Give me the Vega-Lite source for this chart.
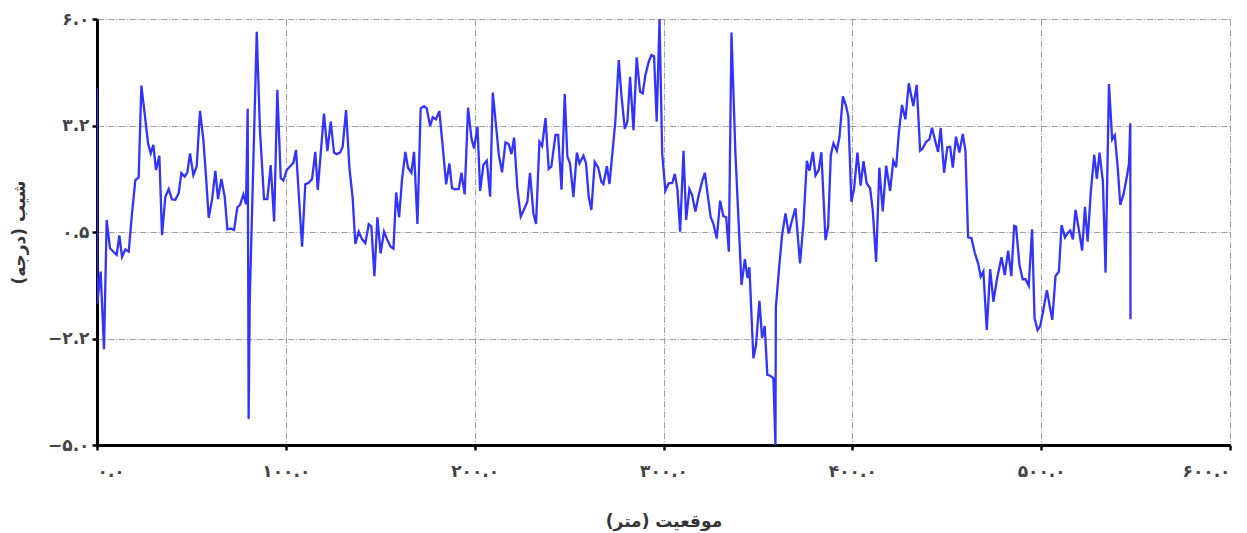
{
  "$schema": "https://vega.github.io/schema/vega-lite/v6.json",
  "width": 1133,
  "height": 426,
  "autosize": "none",
  "padding": {"left": 97, "top": 19, "right": 17, "bottom": 88},
  "background": "white",
  "config": {"view": {"stroke": null}},
  "data": {"values": [
    {"position":0,"slope":4.21},{"position":0.1,"slope":-1.36},{"position":1.95,"slope":-0.52},{"position":3.71,"slope":-2.53},{"position":5.12,"slope":0.81},{"position":6.89,"slope":0.08},{"position":8.66,"slope":-0.01},{"position":10.42,"slope":-0.09},{"position":11.83,"slope":0.41},{"position":13.25,"slope":-0.14},{"position":15.01,"slope":0.05},{"position":16.78,"slope":-0.01},{"position":18.54,"slope":0.98},{"position":20.31,"slope":1.84},{"position":22.07,"slope":1.91},{"position":23.49,"slope":4.28},{"position":25.25,"slope":3.56},{"position":27.02,"slope":2.79},{"position":28.43,"slope":2.53},{"position":29.84,"slope":2.75},{"position":31.25,"slope":2.10},{"position":33.02,"slope":2.47},{"position":34.43,"slope":0.42},{"position":36.2,"slope":1.41},{"position":37.96,"slope":1.61},{"position":39.73,"slope":1.34},{"position":41.49,"slope":1.33},{"position":43.26,"slope":1.50},{"position":44.67,"slope":2.02},{"position":46.44,"slope":1.93},{"position":47.85,"slope":2.04},{"position":49.26,"slope":2.53},{"position":51.03,"slope":1.97},{"position":52.79,"slope":2.19},{"position":54.56,"slope":3.63},{"position":56.32,"slope":2.88},{"position":57.74,"slope":1.93},{"position":59.15,"slope":0.87},{"position":60.92,"slope":1.33},{"position":62.68,"slope":2.08},{"position":64.09,"slope":1.35},{"position":65.86,"slope":1.87},{"position":67.63,"slope":1.41},{"position":69.04,"slope":0.57},{"position":70.8,"slope":0.59},{"position":72.57,"slope":0.55},{"position":74.33,"slope":1.14},{"position":75.75,"slope":1.20},{"position":77.51,"slope":1.47},{"position":78.92,"slope":1.22},
    {"position":79.8,"slope":3.68},{"position":80.3,"slope":-4.33},{"position":80.9,"slope":-1.25},{"position":84.6,"slope":5.67},{"position":86.3,"slope":3.13},{"position":88.45,"slope":1.35},{"position":90.2,"slope":1.35},{"position":92.0,"slope":2.23},{"position":93.8,"slope":0.77},{"position":95.5,"slope":4.17},{"position":97.3,"slope":1.89},{"position":98.7,"slope":1.83},{"position":100.5,"slope":2.10},{"position":102.2,"slope":2.19},{"position":104.0,"slope":2.29},{"position":105.4,"slope":2.62},{"position":108.6,"slope":0.12},{"position":110.3,"slope":1.73},{"position":112.1,"slope":1.77},{"position":113.9,"slope":1.87},{"position":115.6,"slope":2.57},{"position":116.9,"slope":1.59},{"position":120.2,"slope":3.56},{"position":122.0,"slope":2.59},{"position":123.8,"slope":3.35},{"position":125.5,"slope":2.55},{"position":126.9,"slope":2.51},{"position":128.7,"slope":2.55},{"position":130.1,"slope":2.70},{"position":131.9,"slope":3.65},{"position":133.7,"slope":2.14},{"position":135.4,"slope":1.37},{"position":136.8,"slope":0.19},{"position":138.6,"slope":0.51},{"position":140.4,"slope":0.31},{"position":142.1,"slope":0.21},{"position":143.9,"slope":0.70},{"position":145.3,"slope":0.64},{"position":146.9,"slope":-0.64},{"position":148.5,"slope":0.88},{"position":150.2,"slope":-0.05},{"position":152.0,"slope":0.51},{"position":153.8,"slope":0.29},{"position":155.5,"slope":0.12},{"position":157.0,"slope":0.07},{"position":158.4,"slope":1.52},{"position":160.0,"slope":0.88},{"position":161.5,"slope":1.84},{"position":163.3,"slope":2.57},{"position":164.7,"slope":2.16},{"position":166.5,"slope":2.03},{"position":167.9,"slope":2.57},{"position":169.7,"slope":0.71},{"position":171.4,"slope":3.69},{"position":173.2,"slope":3.75},{"position":174.6,"slope":3.69},{"position":176.4,"slope":3.24},{"position":177.8,"slope":3.46},{"position":179.5,"slope":3.41},{"position":181.3,"slope":3.62},{"position":183.1,"slope":2.70},{"position":184.9,"slope":1.73},{"position":186.6,"slope":2.27},{"position":188.0,"slope":1.63},{"position":189.8,"slope":1.60},{"position":191.6,"slope":1.61},{"position":193.0,"slope":2.03},{"position":194.7,"slope":1.47},{"position":196.5,"slope":3.71},{"position":198.3,"slope":2.92},{"position":199.7,"slope":2.66},
    {"position":201.5,"slope":3.22},{"position":202.9,"slope":1.56},{"position":204.6,"slope":2.23},{"position":206.4,"slope":2.34},{"position":208.2,"slope":1.41},{"position":209.6,"slope":4.10},{"position":211.3,"slope":3.26},{"position":212.8,"slope":2.49},{"position":214.5,"slope":2.04},{"position":216.3,"slope":2.81},{"position":218.0,"slope":2.77},{"position":219.5,"slope":2.51},{"position":220.9,"slope":2.94},{"position":222.6,"slope":1.63},{"position":224.4,"slope":0.90},{"position":226.2,"slope":1.09},{"position":227.9,"slope":1.28},{"position":229.3,"slope":2.03},{"position":231.1,"slope":0.98},{"position":232.5,"slope":0.71},{"position":234.3,"slope":2.83},{"position":235.7,"slope":2.72},{"position":237.5,"slope":3.44},{"position":239.2,"slope":2.13},{"position":240.6,"slope":2.19},{"position":242.8,"slope":3.01},{"position":244.2,"slope":3.01},{"position":246.0,"slope":1.59},{"position":247.7,"slope":4.06},{"position":249.1,"slope":2.45},{"position":250.5,"slope":2.27},{"position":252.3,"slope":1.40},{"position":254.1,"slope":2.55},{"position":255.5,"slope":2.27},{"position":257.6,"slope":2.47},{"position":259.0,"slope":2.27},{"position":260.4,"slope":1.41},{"position":261.8,"slope":1.07},{"position":263.6,"slope":2.31},{"position":265.4,"slope":2.17},{"position":267.1,"slope":1.80},{"position":268.2,"slope":1.74},{"position":270.0,"slope":2.20},{"position":271.4,"slope":1.74},{"position":274.5,"slope":3.35},{"position":276.3,"slope":4.94},{"position":277.7,"slope":4.04},{"position":279.5,"slope":3.16},{"position":280.9,"slope":3.35},{"position":282.3,"slope":4.51},{"position":284.1,"slope":3.13},{"position":285.8,"slope":5.01},{"position":287.6,"slope":4.12},{"position":289.0,"slope":4.08},{"position":290.4,"slope":4.55},{"position":292.2,"slope":4.90},{"position":293.6,"slope":5.07},{"position":295.0,"slope":5.04},{"position":296.4,"slope":3.35},{"position":297.9,"slope":6.0},{"position":299.3,"slope":2.53},
    {"position":301.0,"slope":1.57},{"position":302.8,"slope":1.76},{"position":304.6,"slope":1.76},{"position":306.0,"slope":2.00},{"position":307.4,"slope":1.59},{"position":308.8,"slope":0.51},{"position":310.6,"slope":2.60},{"position":312.0,"slope":0.81},{"position":313.7,"slope":1.61},{"position":315.1,"slope":1.46},{"position":316.9,"slope":1.03},{"position":318.7,"slope":1.46},{"position":320.4,"slope":1.80},{"position":321.9,"slope":2.03},{"position":323.3,"slope":1.50},{"position":325.0,"slope":0.88},{"position":326.4,"slope":0.72},{"position":328.2,"slope":0.33},{"position":330.0,"slope":1.31},{"position":331.7,"slope":0.91},{"position":333.2,"slope":0.88},{"position":334.6,"slope":-0.01},{"position":336.0,"slope":5.65},{"position":338.1,"slope":2.51},{"position":339.9,"slope":0.64},{"position":341.3,"slope":-0.87},{"position":343.1,"slope":-0.20},{"position":344.5,"slope":-0.69},{"position":345.5,"slope":-0.41},{"position":347.6,"slope":-2.76},{"position":349.0,"slope":-2.42},{"position":350.8,"slope":-1.28},{"position":352.2,"slope":-2.24},{"position":353.6,"slope":-1.93},{"position":355.0,"slope":-3.19},{"position":356.5,"slope":-3.21},{"position":358.2,"slope":-3.28},{"position":359.3,"slope":-5.0},{"position":359.5,"slope":-1.44},{"position":361.4,"slope":-0.33},{"position":362.8,"slope":0.42},{"position":364.6,"slope":0.98},{"position":366.3,"slope":0.46},{"position":368.1,"slope":0.81},{"position":369.9,"slope":1.11},{"position":372.3,"slope":-0.31},{"position":374.1,"slope":0.71},{"position":375.9,"slope":2.34},{"position":377.3,"slope":2.08},{"position":379.1,"slope":2.57},{"position":380.5,"slope":1.96},{"position":382.2,"slope":2.10},{"position":383.6,"slope":2.56},{"position":385.8,"slope":0.29},{"position":387.2,"slope":0.64},{"position":388.6,"slope":2.49},{"position":390.0,"slope":2.79},{"position":391.8,"slope":2.60},{"position":393.2,"slope":2.96},{"position":395.0,"slope":4.0},{"position":396.7,"slope":3.75},{"position":397.9,"slope":3.48},
    {"position":399.5,"slope":1.28},{"position":400.9,"slope":1.60},{"position":402.7,"slope":2.55},{"position":404.4,"slope":1.70},{"position":405.9,"slope":2.33},{"position":407.6,"slope":1.76},{"position":409.4,"slope":1.63},{"position":410.8,"slope":1.07},{"position":412.6,"slope":-0.27},{"position":414.3,"slope":2.16},{"position":416.1,"slope":1.03},{"position":417.9,"slope":2.21},{"position":420.0,"slope":1.56},{"position":421.7,"slope":2.34},{"position":423.2,"slope":2.17},{"position":424.6,"slope":3.05},{"position":426.3,"slope":3.78},{"position":428.1,"slope":3.41},{"position":429.9,"slope":4.34},{"position":432.3,"slope":3.75},{"position":434.1,"slope":4.30},{"position":435.9,"slope":2.60},{"position":437.3,"slope":2.66},{"position":439.1,"slope":2.83},{"position":440.8,"slope":2.89},{"position":442.2,"slope":3.19},{"position":444.0,"slope":2.83},{"position":445.4,"slope":2.57},{"position":446.8,"slope":3.19},{"position":448.6,"slope":2.03},{"position":450.3,"slope":2.69},{"position":451.8,"slope":2.70},{"position":453.2,"slope":2.16},{"position":454.9,"slope":2.96},{"position":456.7,"slope":2.55},{"position":458.5,"slope":3.03},{"position":459.9,"slope":2.60},{"position":461.3,"slope":0.36},{"position":463.1,"slope":0.34},{"position":464.8,"slope":-0.03},{"position":466.6,"slope":-0.31},{"position":468.0,"slope":-0.65},{"position":469.4,"slope":-0.52},{"position":471.2,"slope":-2.03},{"position":473.0,"slope":-0.46},{"position":474.7,"slope":-1.30},{"position":476.5,"slope":-0.74},{"position":479.0,"slope":-0.15},{"position":480.7,"slope":-0.61},{"position":482.5,"slope":0.02},{"position":484.2,"slope":-0.64},{"position":485.7,"slope":0.66},{"position":486.7,"slope":0.64},{"position":488.5,"slope":-0.35},{"position":490.2,"slope":-0.72},{"position":491.7,"slope":-0.72},{"position":493.4,"slope":-0.89},{"position":495.2,"slope":0.57},{"position":496.5,"slope":-1.73},{"position":498.1,"slope":-2.03},{"position":499.5,"slope":-1.93},
    {"position":501.3,"slope":-1.47},{"position":503.0,"slope":-1.0},{"position":504.4,"slope":-1.38},{"position":505.9,"slope":-1.77},{"position":507.6,"slope":-0.64},{"position":509.4,"slope":-0.52},{"position":510.8,"slope":0.68},{"position":512.6,"slope":0.36},{"position":514.0,"slope":0.47},{"position":515.4,"slope":0.54},{"position":516.8,"slope":0.31},{"position":518.2,"slope":1.07},{"position":520.0,"slope":0.55},{"position":521.7,"slope":0.02},{"position":523.2,"slope":1.15},{"position":524.6,"slope":0.25},{"position":526.3,"slope":1.54},{"position":528.1,"slope":2.49},{"position":529.5,"slope":1.87},{"position":530.9,"slope":2.55},{"position":532.7,"slope":1.80},{"position":534.1,"slope":-0.55},{"position":535.9,"slope":4.32},{"position":537.6,"slope":2.89},{"position":539.0,"slope":3.0},{"position":540.5,"slope":2.19},{"position":541.9,"slope":1.20},{"position":543.6,"slope":1.47},{"position":545.4,"slope":1.93},{"position":546.5,"slope":2.26},{"position":547.2,"slope":3.31},{"position":547.3,"slope":-1.75}
  ]},
  "mark": {"type": "line", "color": "#3333ff", "strokeWidth": 2.3, "clip": true},
  "encoding": {
    "x": {
      "field": "position", "type": "quantitative",
      "scale": {"domain": [0, 600], "nice": false, "zero": false},
      "axis": {
        "title": "موقعیت (متر)",
        "values": [0, 100, 200, 300, 400, 500, 600],
        "labelExpr": "datum.value == 0 ? '۰.۰' : datum.value == 100 ? '۱۰۰.۰' : datum.value == 200 ? '۲۰۰.۰' : datum.value == 300 ? '۳۰۰.۰' : datum.value == 400 ? '۴۰۰.۰' : datum.value == 500 ? '۵۰۰.۰' : '۶۰۰.۰'",
        "grid": true, "gridColor": "#a0a0a0", "gridWidth": 1, "gridDash": [6.4, 1.6, 1, 1.6],
        "domainColor": "black", "domainWidth": 3,
        "tickColor": "black", "tickWidth": 2.5, "tickSize": 5,
        "labelFont": "DejaVu Sans", "labelFontWeight": "bold", "labelFontSize": 17, "labelColor": "#444444", "labelPadding": 13,
        "titleFont": "DejaVu Sans", "titleFontWeight": "bold", "titleFontSize": 17, "titleColor": "#333333",
        "titleY": 76, "titleBaseline": "middle"
      }
    },
    "y": {
      "field": "slope", "type": "quantitative",
      "scale": {"domain": [-5, 6], "nice": false, "zero": false},
      "axis": {
        "title": "شیب (درجه)",
        "values": [-5, -2.25, 0.5, 3.25, 6],
        "labelExpr": "datum.value == 6 ? '۶.۰' : datum.value == 3.25 ? '۳.۲' : datum.value == 0.5 ? '۰.۵' : datum.value == -2.25 ? '−۲.۲' : '−۵.۰'",
        "grid": true, "gridColor": "#a0a0a0", "gridWidth": 1, "gridDash": [6.4, 1.6, 1, 1.6],
        "domainColor": "black", "domainWidth": 3,
        "tickColor": "black", "tickWidth": 2.5, "tickSize": 5,
        "labelFont": "DejaVu Sans", "labelFontWeight": "bold", "labelFontSize": 17, "labelColor": "#444444", "labelPadding": 3,
        "titleFont": "DejaVu Sans", "titleFontWeight": "bold", "titleFontSize": 17, "titleColor": "#333333",
        "titleX": -78, "titleY": 213, "titleAngle": -90, "titleBaseline": "middle"
      }
    }
  }
}
